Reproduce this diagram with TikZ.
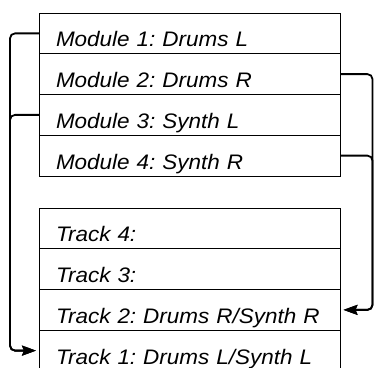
\documentclass[tikz,border=0pt]{standalone}
\usepackage{fontspec}
\setmainfont{Liberation Sans}[FakeStretch=1.07]
\usetikzlibrary{positioning, arrows.meta}
\frenchspacing

\begin{document}
\begin{tikzpicture}[x=1pt, y=1pt, node distance=0pt,
  slot/.style={rectangle, draw=black, line width=1pt, outer sep=0pt, minimum width=301.5pt, minimum height=40.75pt, inner xsep=17pt, inner ysep=0pt, text width=267.5pt, align=left, text height=33.75pt, text depth=7pt, font=\itshape\fontsize{21}{25}\selectfont},
  wire/.style={line width=1.8pt, rounded corners=5pt},
  feed/.style={wire, -{Stealth[length=14pt, width=10pt, inset=2pt]}, shorten >=3pt}]
\useasboundingbox (0,0) rectangle (375,-367);
\node [slot, anchor=north west] (mod1) at (39,-13) {Module 1: Drums L};
\node [slot, below=of mod1] (mod2) {Module 2: Drums R};
\node [slot, below=of mod2] (mod3) {Module 3: Synth L};
\node [slot, below=of mod3] (mod4) {Module 4: Synth R};
\node [slot, below=32pt of mod4] (trk4) {Track 4:};
\node [slot, below=of trk4] (trk3) {Track 3:};
\node [slot, below=of trk3] (trk2) {Track 2: Drums R/Synth R};
\node [slot, below=of trk2] (trk1) {Track 1: Drums L/Synth L};
\draw [feed] (mod1.west) -- ++(-29,0) |- (trk1.west);
\draw [feed] (mod3.west) -- ++(-29,0) |- (trk1.west);
\draw [feed] (mod2.east) -- ++(32,0) |- (trk2.east);
\draw [feed] (mod4.east) -- ++(32,0) |- (trk2.east);
\end{tikzpicture}
\end{document}
